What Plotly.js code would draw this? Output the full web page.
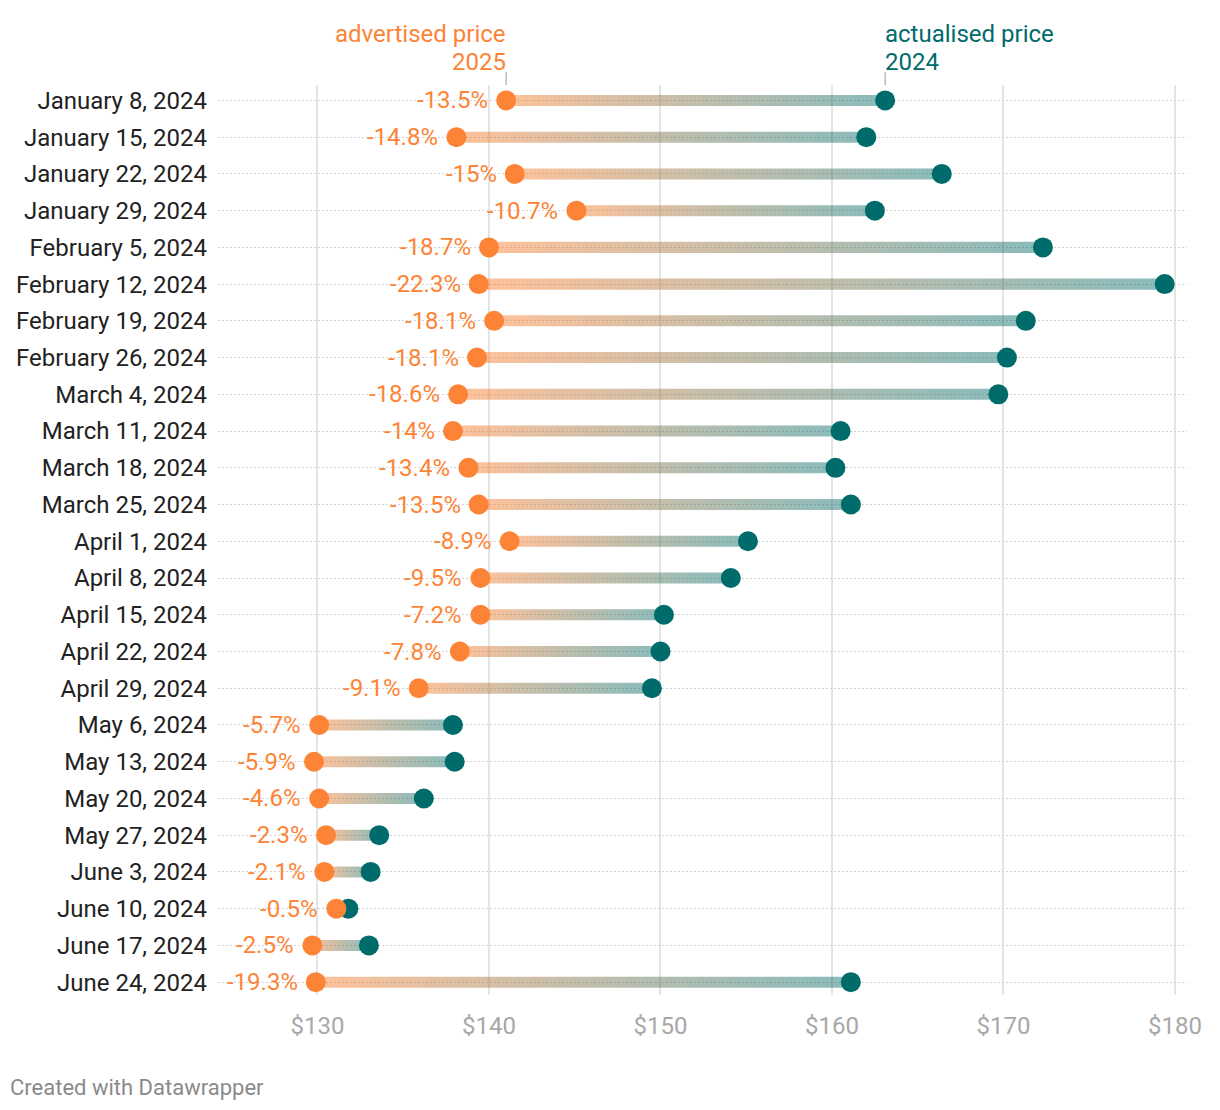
<!DOCTYPE html>
<html>
<head>
<meta charset="utf-8">
<script src="https://cdn.plot.ly/plotly-3.0.1.min.js"></script>
<style>
  html, body { margin: 0; padding: 0; background: #fff; }
  #chart { width: 1220px; height: 1110px; }
</style>
</head>
<body>
<div id="chart"></div>
<script>
const weeks = [
  "January 8, 2024", "January 15, 2024", "January 22, 2024", "January 29, 2024",
  "February 5, 2024", "February 12, 2024", "February 19, 2024", "February 26, 2024",
  "March 4, 2024", "March 11, 2024", "March 18, 2024", "March 25, 2024",
  "April 1, 2024", "April 8, 2024", "April 15, 2024", "April 22, 2024", "April 29, 2024",
  "May 6, 2024", "May 13, 2024", "May 20, 2024", "May 27, 2024",
  "June 3, 2024", "June 10, 2024", "June 17, 2024", "June 24, 2024"
];
const advertised2025 = [
  141.0, 138.1, 141.5, 145.1, 140.0, 139.4, 140.3, 139.3, 138.2, 137.9, 138.8, 139.4,
  141.2, 139.5, 139.5, 138.3, 135.9, 130.1, 129.8, 130.1, 130.5, 130.4, 131.1, 129.7, 129.9
];
const actualised2024 = [
  163.1, 162.0, 166.4, 162.5, 172.3, 179.4, 171.3, 170.2, 169.7, 160.5, 160.2, 161.1,
  155.1, 154.1, 150.2, 150.0, 149.5, 137.9, 138.0, 136.2, 133.6, 133.1, 131.8, 133.0, 161.1
];
const changeLabels = [
  "-13.5%", "-14.8%", "-15%", "-10.7%", "-18.7%", "-22.3%", "-18.1%", "-18.1%",
  "-18.6%", "-14%", "-13.4%", "-13.5%", "-8.9%", "-9.5%", "-7.2%", "-7.8%", "-9.1%",
  "-5.7%", "-5.9%", "-4.6%", "-2.3%", "-2.1%", "-0.5%", "-2.5%", "-19.3%"
];
const xTickVals = [130, 140, 150, 160, 170, 180];
const xTickText = ["$130", "$140", "$150", "$160", "$170", "$180"];
const headerAdvertised = ["advertised price", "2025"];
const headerActualised = ["actualised price", "2024"];

const ORANGE = "#fd8436";
const TEAL = "#006b6b";
const FONT = "Roboto, 'Noto Sans', sans-serif";
const HALF = 0.15;

const rows = weeks.map((_, i) => i);
const traces = [];

// gradient connector bars
rows.forEach(i => {
  const a = advertised2025[i], b = actualised2024[i];
  traces.push({
    type: "scatter",
    mode: "none",
    x: [a, b, b, a, a],
    y: [i - HALF, i - HALF, i + HALF, i + HALF, i - HALF],
    fill: "toself",
    fillcolor: "rgba(200,160,130,0.5)",
    fillgradient: {
      type: "horizontal",
      colorscale: [[0, "rgba(253,132,54,0.5)"], [1, "rgba(0,107,107,0.46)"]]
    },
    line: { width: 0 },
    hoverinfo: "skip",
    showlegend: false
  });
});

traces.push({
  type: "scatter",
  mode: "markers",
  x: actualised2024,
  y: rows,
  marker: { color: TEAL, size: 20, line: { width: 0 } },
  hoverinfo: "skip",
  showlegend: false
});
traces.push({
  type: "scatter",
  mode: "markers",
  x: advertised2025,
  y: rows,
  marker: { color: ORANGE, size: 20, line: { width: 0 } },
  hoverinfo: "skip",
  showlegend: false
});

const annotations = rows.map(i => ({
  x: advertised2025[i], y: i, xref: "x", yref: "y",
  text: changeLabels[i], showarrow: false,
  xanchor: "right", yanchor: "middle", xshift: -16,
  font: { family: FONT, size: 24, color: ORANGE }
}));

const headerY = [1.056, 1.0255];
headerAdvertised.forEach((t, k) => annotations.push({
  x: advertised2025[0], y: headerY[k], xref: "x", yref: "paper",
  text: t, showarrow: false, align: "right",
  xanchor: "right", yanchor: "middle", xshift: 2,
  font: { family: FONT, size: 24, color: ORANGE }
}));
headerActualised.forEach((t, k) => annotations.push({
  x: actualised2024[0], y: headerY[k], xref: "x", yref: "paper",
  text: t, showarrow: false, align: "left",
  xanchor: "left", yanchor: "middle", xshift: -2,
  font: { family: FONT, size: 24, color: TEAL }
}));
annotations.push({
  x: 0, y: 0, xref: "paper", yref: "paper",
  text: "Created with Datawrapper", showarrow: false,
  xanchor: "left", yanchor: "middle", xshift: -210, yshift: -92,
  font: { family: FONT, size: 22, color: "#8a8a8a" }
});

const shapes = [
  { type: "line", xref: "x", yref: "paper", x0: advertised2025[0], x1: advertised2025[0], y0: 1.0, y1: 1.014, line: { color: "#999", width: 1 } },
  { type: "line", xref: "x", yref: "paper", x0: actualised2024[0], x1: actualised2024[0], y0: 1.0, y1: 1.014, line: { color: "#999", width: 1 } }
];

const layout = {
  width: 1220, height: 1110,
  margin: { l: 218, r: 33, t: 85, b: 115 },
  paper_bgcolor: "#fff", plot_bgcolor: "#fff",
  showlegend: false,
  hovermode: false,
  xaxis: {
    range: [124.2, 180.7],
    tickvals: xTickVals, ticktext: xTickText,
    showgrid: true, gridcolor: "#e4e4e4", gridwidth: 2,
    zeroline: false, showline: false, ticks: "",
    ticklabelstandoff: 14,
    tickfont: { family: FONT, size: 24, color: "#a8a8a8" },
    fixedrange: true
  },
  yaxis: {
    range: [24.35, -0.42],
    tickvals: rows, ticktext: weeks,
    showgrid: true, gridcolor: "#d2d2d2", gridwidth: 1, griddash: "2px,2px",
    zeroline: false, showline: false, ticks: "",
    ticklabelstandoff: 10,
    tickfont: { family: FONT, size: 24, color: "#222" },
    fixedrange: true
  },
  annotations: annotations,
  shapes: shapes
};

Plotly.newPlot("chart", traces, layout, { displayModeBar: false, staticPlot: true });
</script>
</body>
</html>
